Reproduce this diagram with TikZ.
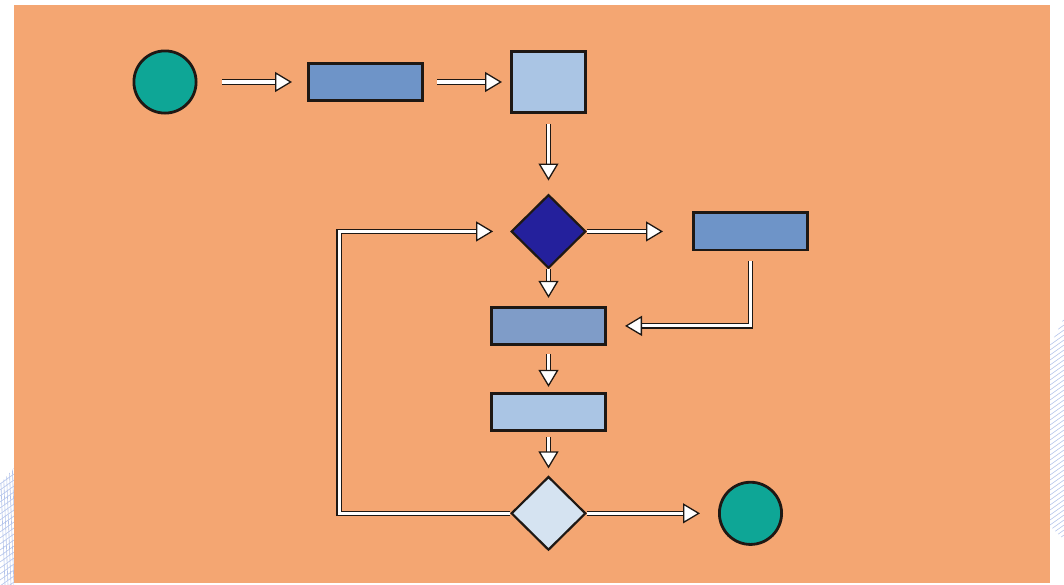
\documentclass[tikz,border=0pt]{standalone}
\usetikzlibrary{matrix,shapes.geometric,arrows.meta}

\definecolor{paper}{HTML}{F4A672}
\definecolor{ink}{HTML}{1E1814}
\definecolor{tealfill}{HTML}{0EA696}
\definecolor{midblue}{HTML}{6E94C8}
\definecolor{greyblue}{HTML}{7F9CC8}
\definecolor{paleblue}{HTML}{AAC5E4}
\definecolor{iceblue}{HTML}{D5E3F1}
\definecolor{navy}{HTML}{24209C}
\definecolor{meshblue}{HTML}{B3C3EA}

\tikzset{
  terminal/.style={circle, draw=ink, line width=2.8pt, fill=tealfill,
    minimum size=62.2pt, inner sep=0pt},
  process/.style={rectangle, draw=ink, line width=2.8pt, fill=midblue,
    minimum width=114.2pt, minimum height=37.2pt, inner sep=0pt},
  decision/.style={diamond, draw=ink, line width=2.2pt, fill=iceblue,
    minimum width=74.6pt, minimum height=73.6pt, inner sep=0pt},
  conn/.style={draw=ink, line width=1.2pt, double=white, double distance=3.2pt,
    -{Triangle[length=17pt, width=20pt, fill=white, line width=1.3pt]}},
  mesh/.style={meshblue, line width=0.6pt}
}

\begin{document}
\begin{tikzpicture}[x=1pt,y=-1pt]
  \useasboundingbox (0,0) rectangle (1064,585);
  \fill[paper] (14,5) rectangle (1050,583);

  % wire mesh showing at the edges
  \begin{scope}
    \clip (1050,345) .. controls (1058,330) .. (1064,318) -- (1064,540) -- (1050,526) -- cycle;
    \foreach \k in {0,...,50}
      \draw[mesh] (1050,310+5*\k) -- (1064,300+5*\k);
  \end{scope}
  \begin{scope}
    \clip (0,484) -- (14,468) -- (14,585) -- (0,585) -- cycle;
    \foreach \k in {0,...,30}
      \draw[mesh] (0,460+6*\k) -- (14,450+6*\k);
    \foreach \k in {0,...,5}
      \draw[mesh] (3*\k,460) -- (3*\k+5,585);
  \end{scope}

  \matrix (m) [matrix of nodes, row sep=0pt, column sep=0pt,
      nodes={anchor=center}, matrix anchor=m-1-1.center] at (165,82)
  {
    |[terminal]| {} &[109.5pt] |[process]| {} &[66pt]
      |[process, fill=paleblue, minimum width=74.2pt, minimum height=61.2pt]| {} &[85pt] \\[79.5pt]
    & & |[decision, fill=navy]| {} & |[process]| {} \\[37pt]
    & & |[process, fill=greyblue]| {} & \\[46pt]
    & & |[process, fill=paleblue]| {} & \\[44pt]
    & & |[decision]| {} & |[terminal]| {} \\
  };

  \path[every edge/.style={conn}]
    (m-1-1) edge[shorten <=24.5pt, shorten >=15pt] (m-1-2)
    (m-1-2) edge[shorten <=13pt, shorten >=8pt] (m-1-3)
    (m-1-3) edge[shorten <=10pt, shorten >=13pt] (m-2-3)
    (m-2-3) edge[shorten >=29pt] (m-2-4)
    (m-2-3) edge[shorten >=8pt] (m-3-3)
    (m-3-3) edge[shorten <=8pt, shorten >=5pt] (m-4-3)
    (m-4-3) edge[shorten <=5pt, shorten >=7pt] (m-5-3)
    (m-5-3) edge[shorten >=18pt] (m-5-4);
  \draw[conn, shorten <=10pt, shorten >=18pt] (m-2-4) |- (m-3-3);
  \draw[conn, shorten >=17pt] (m-5-3.west) -- ++(-171pt,0) |- (m-2-3.west);
\end{tikzpicture}
\end{document}
